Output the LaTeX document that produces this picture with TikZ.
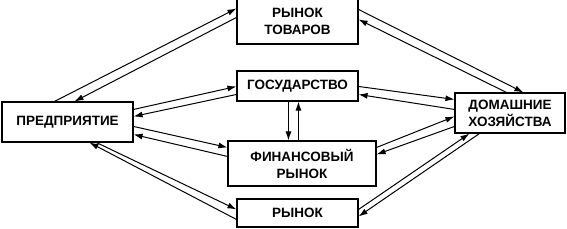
\documentclass[tikz,border=0pt]{standalone}
\usepackage{fontspec}
\setmainfont{Liberation Sans}
\usetikzlibrary{arrows.meta,calc}

\begin{document}
\begin{tikzpicture}[x=1pt, y=-1pt, >={Latex[length=9pt,width=6pt]},
    box/.style={draw, line width=1.1pt, inner sep=0pt, align=center,
      font=\fontsize{13.5}{17}\selectfont\bfseries},
    flow/.style={->, line width=1pt}]
    \useasboundingbox (0,0) rectangle (567,228);

    % блоки
    \node[box, minimum width=131pt, minimum height=40pt] (ent) at (67.5,122) {ПРЕДПРИЯТИЕ};
    \node[box, minimum width=121pt, minimum height=46pt] (tov) at (297.5,21) {РЫНОК\\ТОВАРОВ};
    \node[box, minimum width=121pt, minimum height=30pt] (gos) at (297.5,86) {ГОСУДАРСТВО};
    \node[box, minimum width=148pt, minimum height=45pt] (fin) at (302,163.5) {ФИНАНСОВЫЙ\\РЫНОК};
    \node[box, minimum width=121pt, minimum height=28pt] (ryn) at (297.5,213) {РЫНОК};
    \node[box, minimum width=110pt, minimum height=40pt] (dom) at (510,113) {ДОМАШНИЕ\\ХОЗЯЙСТВА};

    % предприятие <-> рынки и государство
    \draw[flow] ($(ent.north west)+(53,0)$) -- ($(tov.north west)+(0,11)$);
    \draw[flow] ($(tov.north west)+(0,20)$) -- ($(ent.north west)+(73,0)$);
    \draw[flow] ($(ent.north east)+(0,8)$) -- ($(gos.north west)+(0,16)$);
    \draw[flow] ($(gos.north west)+(0,24)$) -- ($(ent.north east)+(0,15)$);
    \draw[flow] ($(ent.north east)+(0,25)$) -- ($(fin.north west)+(0,7)$);
    \draw[flow] ($(fin.north west)+(0,16)$) -- ($(ent.north east)+(0,33)$);
    \draw[flow] ($(ent.south west)+(95,0)$) -- ($(ryn.north west)+(0,11)$);
    \draw[flow] ($(ryn.north west)+(0,21)$) -- ($(ent.south west)+(88,0)$);

    % домашние хозяйства <-> рынки и государство
    \draw[flow] ($(tov.north east)+(0,12)$) -- ($(dom.north west)+(69,0)$);
    \draw[flow] ($(dom.north west)+(52,0)$) -- ($(tov.north east)+(0,22)$);
    \draw[flow] ($(gos.north east)+(0,16)$) -- ($(dom.north west)+(0,7)$);
    \draw[flow] ($(dom.north west)+(0,17)$) -- ($(gos.north east)+(0,24)$);
    \draw[flow] ($(fin.north east)+(0,7)$) -- ($(dom.north west)+(0,24)$);
    \draw[flow] ($(dom.north west)+(0,34)$) -- ($(fin.north east)+(0,14)$);
    \draw[flow] ($(ryn.north east)+(0,11)$) -- ($(dom.south west)+(15,0)$);
    \draw[flow] ($(dom.south west)+(25,0)$) -- ($(ryn.north east)+(0,18)$);

    % государство <-> финансовый рынок
    \coordinate (gd) at ($(gos.south west)+(52,0)$);
    \coordinate (gu) at ($(gos.south west)+(62,0)$);
    \draw[flow] (gd) -- (gd |- fin.north);
    \draw[flow] (gu |- fin.north) -- (gu);
\end{tikzpicture}
\end{document}
